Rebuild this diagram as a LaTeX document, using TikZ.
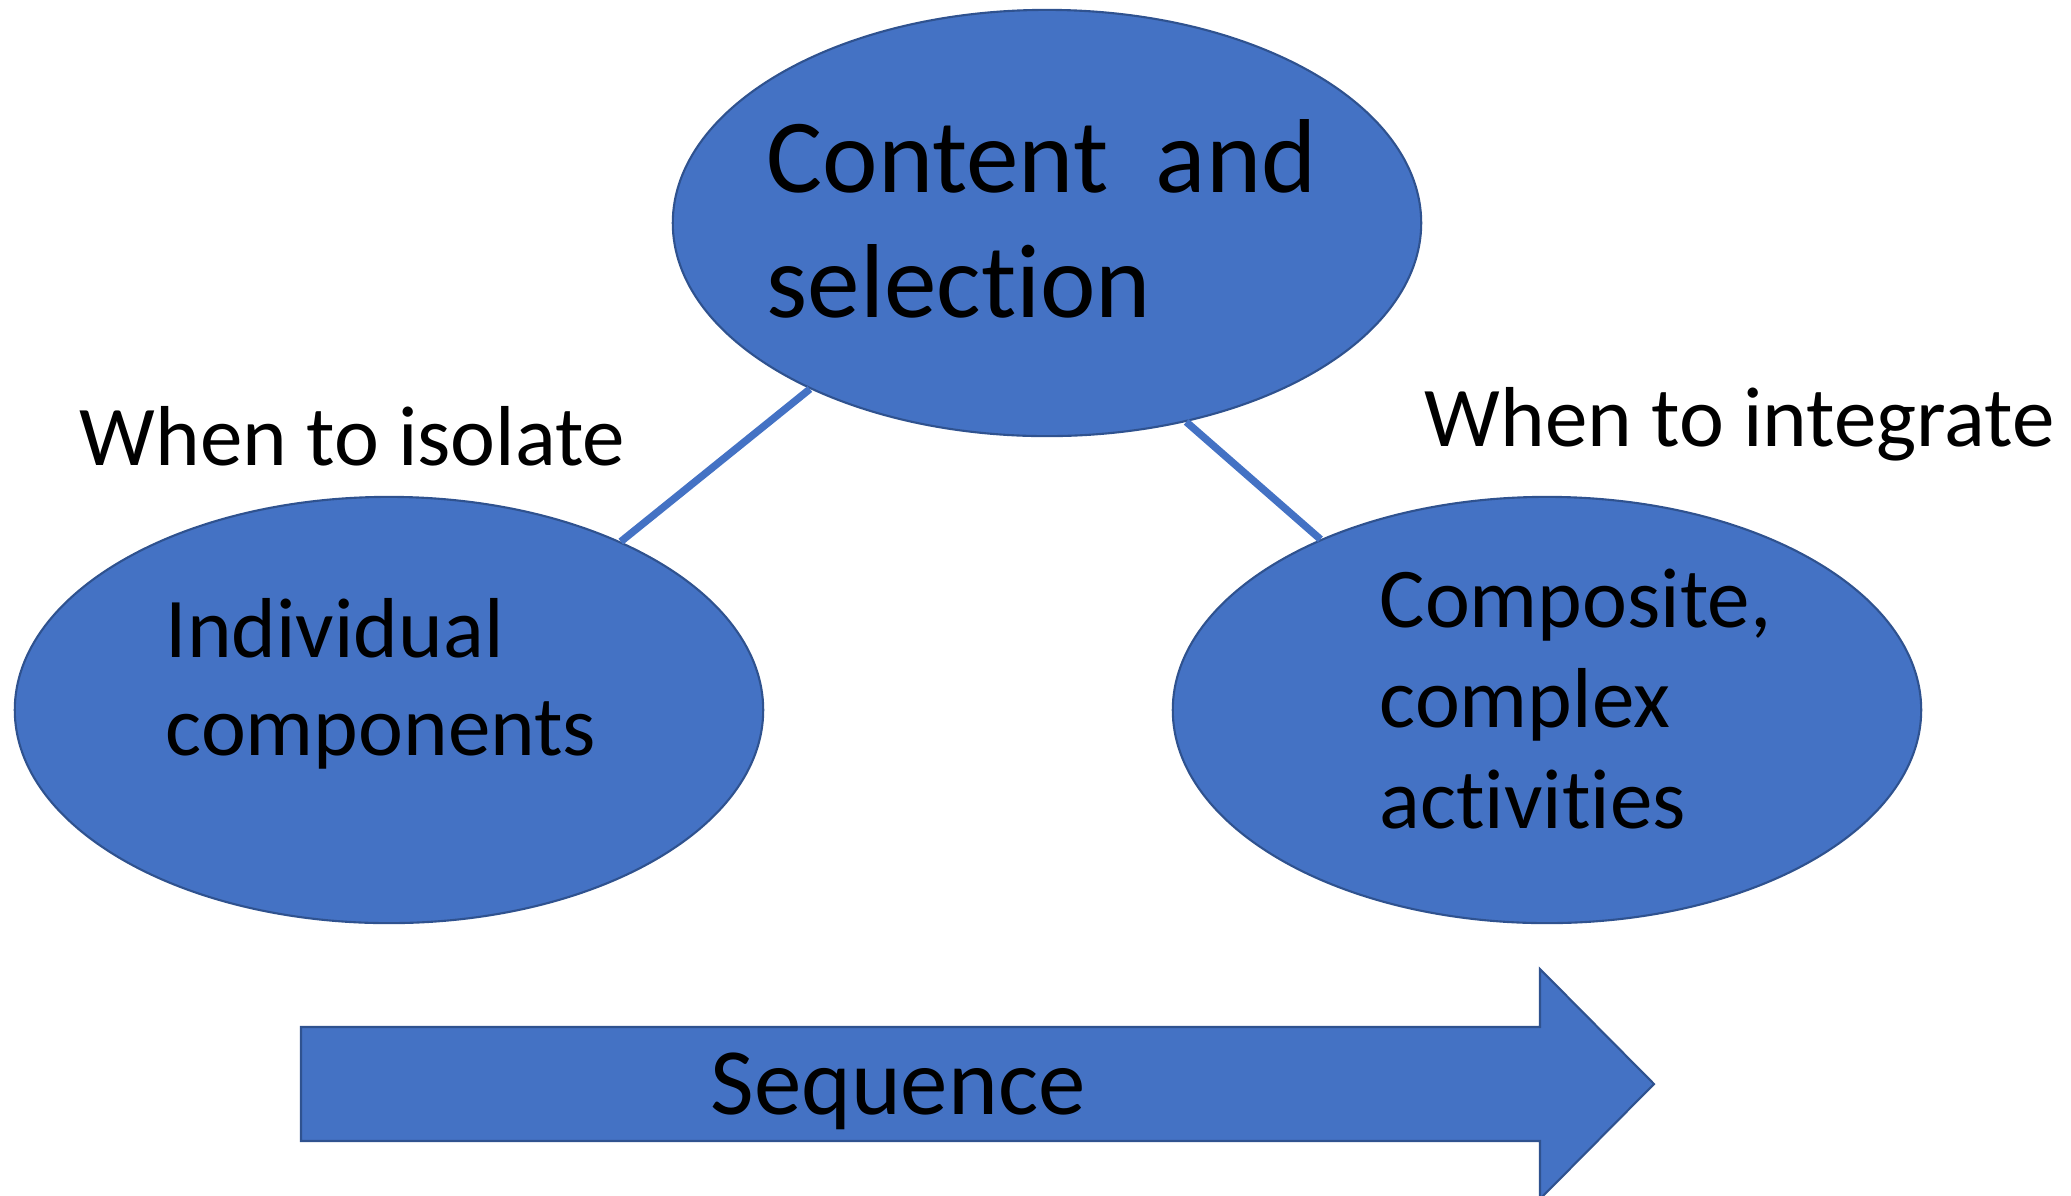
\documentclass[tikz,border=0pt]{standalone}
\usepackage{fontspec}
\setmainfont{Carlito}[Ligatures=NoCommon]
\usetikzlibrary{shapes.geometric}
\definecolor{officeblue}{HTML}{4472C4}
\definecolor{officeline}{HTML}{2F528F}
\begin{document}
\begin{tikzpicture}[x=0.01cm, y=-0.01cm,
blobnode/.style={ellipse, fill=officeblue, draw=officeline, line width=0.6pt, inner sep=0, minimum width=7.48cm, minimum height=4.26cm},
labelnode/.style={anchor=base west, inner sep=0, align=left},
linkline/.style={officeblue, line width=2.1pt}
]
\useasboundingbox (0,0) rectangle (2071,1196);
%Nodes
\node[blobnode] (content) at (1047,223) {};
\node[blobnode] (single) at (389,710) {};
\node[blobnode] (composite) at (1547,710) {};
\node[labelnode, font=\fontsize{29.9}{35.3}\selectfont] (contenttext) at (766,317) {Content\ \ and\\selection};
\node[labelnode, font=\fontsize{24.2}{27.6}\selectfont] (singletext) at (165,755) {Individual\\components};
\node[labelnode, font=\fontsize{24.2}{28.5}\selectfont] (compositetext) at (1379,828) {Composite,\\complex\\activities};
\node[labelnode, font=\fontsize{24.2}{29}\selectfont] (isolate) at (79,465) {When to isolate};
\node[labelnode, font=\fontsize{24.2}{29}\selectfont] (integrate) at (1424,446) {When to integrate};

%Lines
\draw[linkline] (content.215) -- (single.36);
\draw[linkline] (content.-55) -- (composite.143);

%Arrow
\filldraw[fill=officeblue, draw=officeline, line width=0.6pt] (301,1027) -- (1540,1027) -- (1540,969) -- (1654,1084) -- (1540,1199) -- (1540,1141) -- (301,1141) -- cycle;
\node[anchor=base, inner sep=0, font=\fontsize{27}{32}\selectfont] (sequence) at (898,1114) {Sequence};
\end{tikzpicture}
\end{document}
